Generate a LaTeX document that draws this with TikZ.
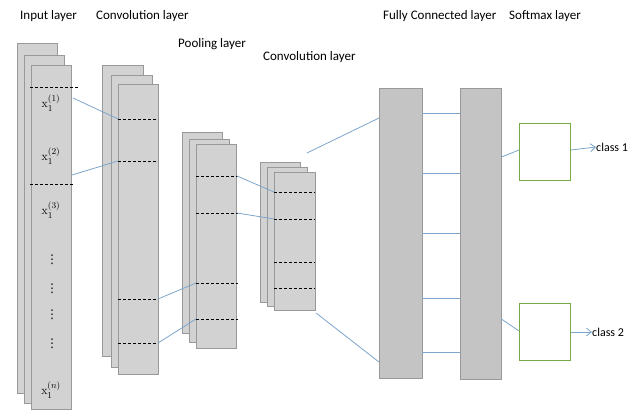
\documentclass[tikz,border=0pt]{standalone}
\usepackage{amsmath}
\usepackage{amssymb}
\usepackage[no-math]{fontspec}
\setmainfont{Carlito}
\newfontfamily\dotfont{DejaVu Sans}
\usetikzlibrary{arrows.meta, positioning, calc}

\definecolor{sheetgray}{RGB}{210,210,210}
\definecolor{fcgray}{RGB}{196,196,196}
\definecolor{linkblue}{RGB}{125,165,205}
\definecolor{boxgreen}{RGB}{120,170,70}

\begin{document}
\begin{tikzpicture}[x=1pt, y=-1pt,
    sheet/.style={rectangle, draw=gray!80, fill=sheetgray, anchor=north west, inner sep=0pt},
    fcbar/.style={rectangle, draw=gray!80, fill=fcgray, anchor=north west, inner sep=0pt},
    softbox/.style={rectangle, draw=boxgreen, thick, fill=white, anchor=north west, inner sep=0pt, minimum width=51pt, minimum height=57pt},
    cut/.style={densely dashed, thin, black},
    link/.style={draw=linkblue, line width=0.8pt},
    title/.style={font=\fontsize{13}{15}\selectfont, anchor=west, inner sep=0pt},
    classlbl/.style={font=\fontsize{12}{14}\selectfont, anchor=west, inner sep=0pt},
    xlabel/.style={font=\fontsize{13}{15}\selectfont, inner sep=0pt},
    vdot/.style={font=\dotfont\fontsize{12}{12}\selectfont, inner sep=0pt}]
    \useasboundingbox (0,0) rectangle (640,410);

    \node[title] (tin) at (20,16) {Input layer};
    \node[title] (tc1) at (96,16) {Convolution layer};
    \node[title] (tpool) at (178,44) {Pooling layer};
    \node[title] (tc2) at (263,57) {Convolution layer};
    \node[title] (tfc) at (383,16) {Fully Connected layer};
    \node[title] (tsoft) at (509,16) {Softmax layer};

    \node[sheet, minimum width=40pt, minimum height=350pt] (in1) at (17,43) {};
    \node[sheet, minimum width=40pt, minimum height=348pt] (in2) at (24,55) {};
    \node[sheet, minimum width=40pt, minimum height=344pt] (in3) at (31,65) {};

    \node[sheet, minimum width=41pt, minimum height=291pt] (cv1) at (102,65) {};
    \node[sheet, minimum width=41pt, minimum height=292pt] (cv2) at (111,75) {};
    \node[sheet, minimum width=40pt, minimum height=290pt] (cv3) at (118,84) {};

    \node[sheet, minimum width=40pt, minimum height=201pt] (pl1) at (182,132) {};
    \node[sheet, minimum width=40pt, minimum height=203pt] (pl2) at (189,139) {};
    \node[sheet, minimum width=40pt, minimum height=204pt] (pl3) at (196,144) {};

    \node[sheet, minimum width=40pt, minimum height=140pt] (cw1) at (260,162) {};
    \node[sheet, minimum width=40pt, minimum height=139pt] (cw2) at (267,167) {};
    \node[sheet, minimum width=41pt, minimum height=138pt] (cw3) at (274,172) {};

    \node[fcbar, minimum width=43pt, minimum height=290pt] (fc1) at (379,88) {};
    \node[fcbar, minimum width=41pt, minimum height=291pt] (fc2) at (460,88) {};

    \node[softbox] (sm1) at (519,123) {};
    \node[softbox] (sm2) at (519,303) {};

    \node[xlabel] (x1) at (51,103) {$\mathrm{x}_1^{(1)}$};
    \node[xlabel] (x2) at (51,156) {$\mathrm{x}_1^{(2)}$};
    \node[xlabel] (x3) at (51,210) {$\mathrm{x}_1^{(3)}$};
    \node[xlabel] (xn) at (51,390) {$\mathrm{x}_1^{(n)}$};
    \foreach \y [count=\i] in {260,289,315,344}
        \node[vdot] (vd\i) at (52,\y) {⋮};

    \draw[cut] (30,87) -- (78,87);
    \draw[cut] (30,184) -- (73,184);
    \foreach \y in {119,161,299,343}
        \draw[cut] (118,\y) -- (158,\y);
    \foreach \y in {176,213,283,319}
        \draw[cut] (196,\y) -- (238,\y);
    \foreach \y in {192,219,262,288}
        \draw[cut] (274,\y) -- (315,\y);

    \coordinate (a1) at (73,98);
    \coordinate (a2) at (72,175);
    \coordinate (b1) at (118,119);
    \coordinate (b2) at (118,161);
    \coordinate (b3) at (158,299);
    \coordinate (b4) at (158,343);
    \coordinate (p1) at (196,283);
    \coordinate (p2) at (196,319);
    \coordinate (p3) at (237,176);
    \coordinate (p4) at (237,213);
    \coordinate (d1) at (274,192);
    \coordinate (d2) at (274,219);
    \coordinate (d3) at (307,153);
    \coordinate (d4) at (316,313);

    \draw[link] (a1) -- (b1);
    \draw[link] (a2) -- (b2);
    \draw[link] (b3) -- (p1);
    \draw[link] (b4) -- (p2);
    \draw[link] (p3) -- (d1);
    \draw[link] (p4) -- (d2);
    \draw[link] (d3) -- (fc1.west |- 0,118);
    \draw[link] (d4) -- (fc1.west |- 0,362);
    \foreach \y in {113,173,233,298,352}
        \draw[link] (fc1.east |- 0,\y) -- (fc2.west |- 0,\y);
    \draw[link] (fc2.east |- 0,157) -- (sm1.west |- 0,150);
    \draw[link] (fc2.east |- 0,319) -- (sm2.west |- 0,331);

    \node[classlbl] (cl1) at (596,147) {class 1};
    \node[classlbl] (cl2) at (592,332) {class 2};
    \draw[link, -{Straight Barb[length=5pt, width=8pt]}] (sm1.east |- 0,150) -- (cl1.west);
    \draw[link, -{Straight Barb[length=5pt, width=8pt]}] (sm2.east |- 0,332) -- (cl2.west);
\end{tikzpicture}
\end{document}
